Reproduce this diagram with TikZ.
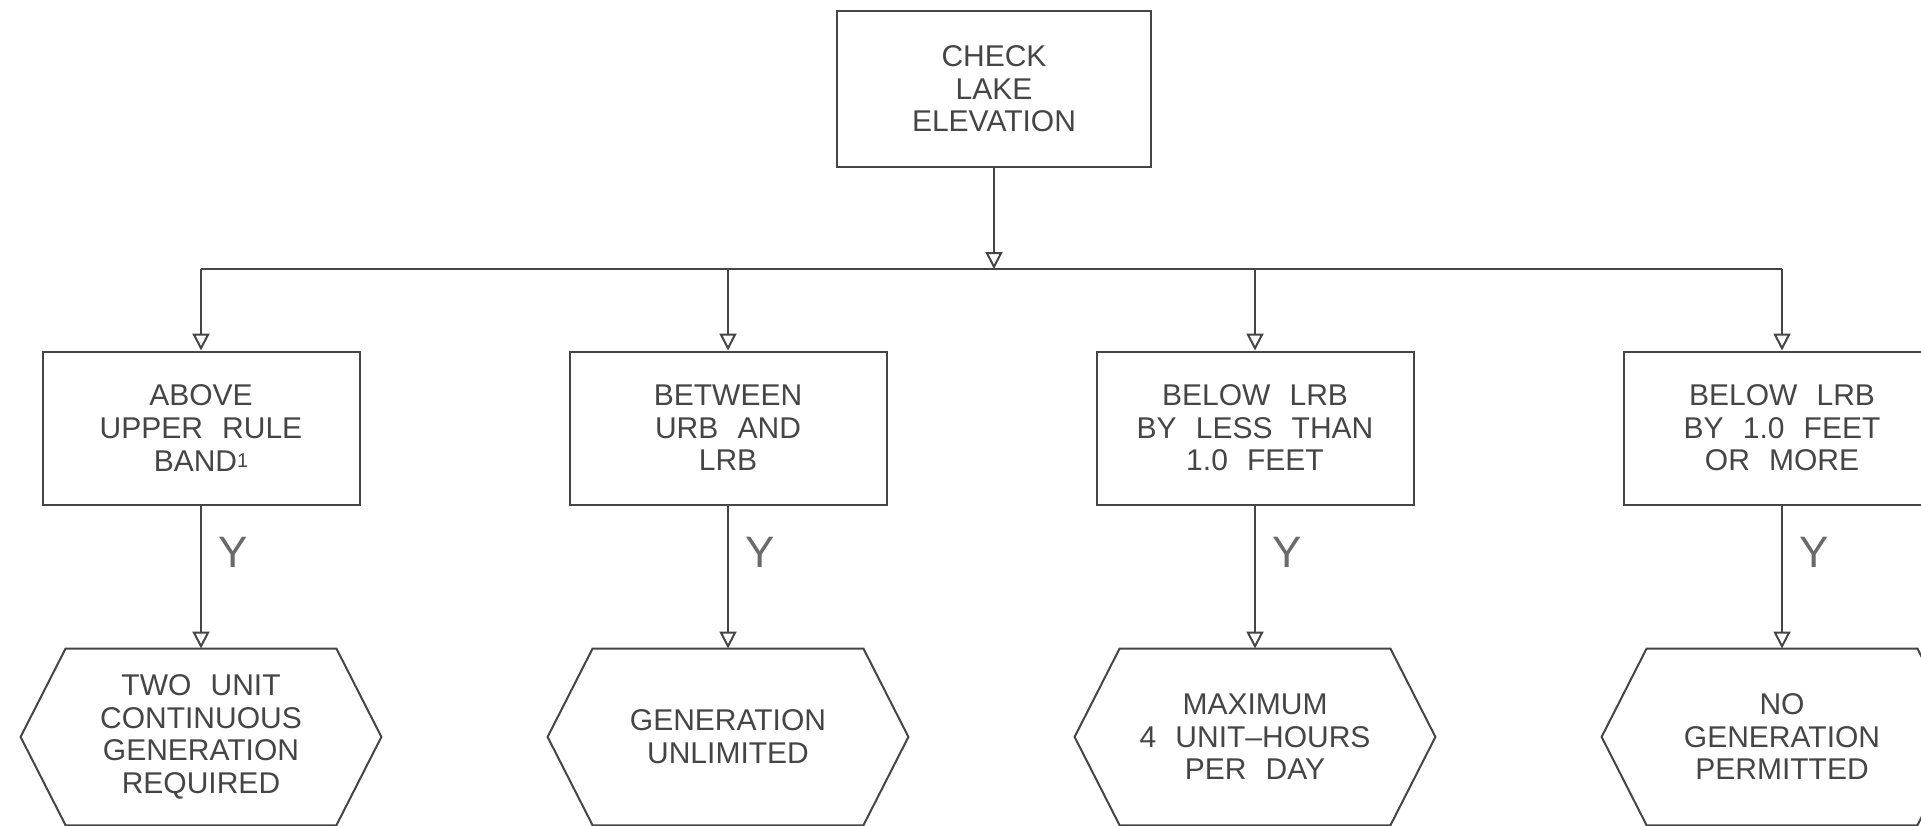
\documentclass[tikz,border=0pt]{standalone}
\usepackage{fontspec}
\setmainfont{Liberation Sans}[WordSpace=2.3]
\usetikzlibrary{arrows.meta,positioning}
\definecolor{ink}{HTML}{454545}

\begin{document}
\begin{tikzpicture}[
  x=0.5pt, y=-0.5pt, >={Triangle[open,length=8.5pt,width=8.5pt]},
  node distance=71.5pt and 104pt,
  every node/.style={text=ink, font=\fontsize{15}{16.3}\selectfont},
  box/.style={draw=ink, line width=1pt, minimum width=158.5pt, minimum height=76.5pt,
              align=center, inner sep=0pt},
  hexa/.style={minimum width=180pt, minimum height=88pt, align=center, inner sep=0pt},
  flow/.style={->, draw=ink, line width=1pt},
  yes/.style={right, inner sep=0pt, xshift=8pt, text=ink!80, font=\fontsize{22}{22}\selectfont}
]
\useasboundingbox (0,0) rectangle (1921,825);
\node[box, minimum width=157pt, minimum height=78pt] (chk) at (994,89) {CHECK\\LAKE\\ELEVATION};
\coordinate (bus) at (994,269);
\node[box] (above) at (201,428) {ABOVE\\UPPER RULE\\BAND{\fontsize{10}{10}\selectfont\raisebox{2pt}{1}}};
\node[box, right=of above] (between) {BETWEEN\\URB AND\\LRB};
\node[box, right=of between] (less) {BELOW LRB\\BY LESS THAN\\1.0 FEET};
\node[box, right=of less] (more) {BELOW LRB\\BY 1.0 FEET\\OR MORE};
\node[hexa, below=of above] (twounit) {TWO UNIT\\CONTINUOUS\\GENERATION\\REQUIRED};
\node[hexa, below=of between] (unlimited) {GENERATION\\UNLIMITED};
\node[hexa, below=of less] (maximum) {MAXIMUM\\4 UNIT--HOURS\\PER DAY};
\node[hexa, below=of more] (nogen) {NO\\GENERATION\\PERMITTED};
\foreach \h in {twounit,unlimited,maximum,nogen}
  \draw[ink, line width=1pt] (\h.west) -- ([xshift=22.5pt]\h.north west)
    -- ([xshift=-22.5pt]\h.north east) -- (\h.east)
    -- ([xshift=-22.5pt]\h.south east) -- ([xshift=22.5pt]\h.south west) -- cycle;
\draw[flow] (chk) -- (chk |- bus);
\draw[ink, line width=1pt] (above |- bus) -- (more |- bus);
\draw[flow] (above |- bus) -- (above);
\draw[flow] (between |- bus) -- (between);
\draw[flow] (less |- bus) -- (less);
\draw[flow] (more |- bus) -- (more);
\draw[flow] (above) -- node[yes, pos=0.33]{Y} (twounit);
\draw[flow] (between) -- node[yes, pos=0.33]{Y} (unlimited);
\draw[flow] (less) -- node[yes, pos=0.33]{Y} (maximum);
\draw[flow] (more) -- node[yes, pos=0.33]{Y} (nogen);
\end{tikzpicture}
\end{document}
